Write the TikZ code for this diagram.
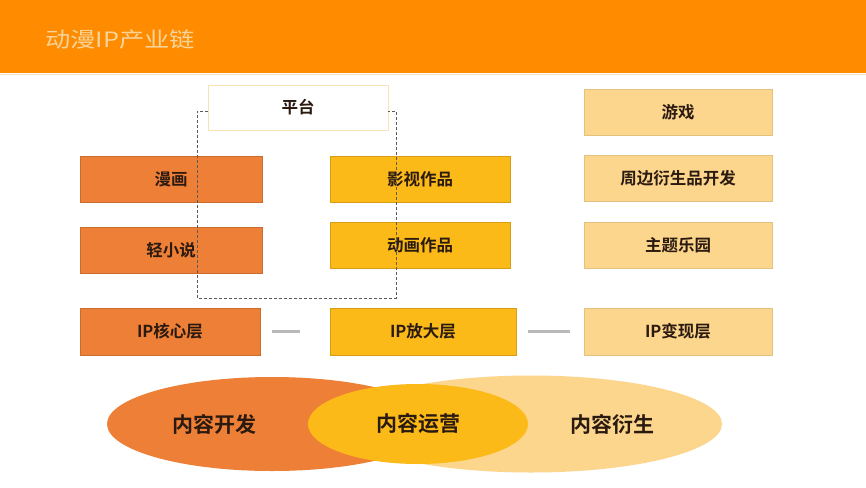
\documentclass[tikz,border=0pt]{standalone}
\usepackage{fontspec}
\setmainfont{Noto Sans CJK SC}
\newfontfamily\cjkbold{Noto Sans CJK SC Bold}
\usetikzlibrary{shapes.geometric}

\definecolor{headorange}{HTML}{FF8C00}
\definecolor{titlecream}{HTML}{F6D49A}
\definecolor{coreorange}{HTML}{EE7F36}
\definecolor{ampgold}{HTML}{FBBA18}
\definecolor{cashlight}{HTML}{FCD68C}
\definecolor{textdark}{HTML}{2B1A10}

\tikzset{
  layerbox/.style={rectangle, minimum width=182pt, minimum height=46pt,
    inner sep=0pt, text=textdark, font=\cjkbold\fontsize{16.5}{18}\selectfont},
  corebox/.style={layerbox, fill=coreorange, draw=coreorange!85!black, line width=0.4pt},
  ampbox/.style={layerbox, fill=ampgold, draw=ampgold!85!black, line width=0.4pt},
  cashbox/.style={layerbox, fill=cashlight, draw=cashlight!90!black, line width=0.4pt},
  blob/.style={ellipse, inner sep=0pt},
  blobtext/.style={text=textdark, font=\cjkbold\fontsize{21}{24}\selectfont},
  link/.style={draw=gray!55, line width=3pt}
}

\begin{document}
\begin{tikzpicture}[x=1pt, y=-1pt]
  \useasboundingbox (0,0) rectangle (866,487);
  \fill[white] (0,0) rectangle (866,487);

  % Draw header bar
  \fill[headorange] (0,0) rectangle (866,73);
  \draw[titlecream!60, line width=1.5pt] (0,74.5) -- (866,74.5);
  \node[anchor=west, text=titlecream, font=\fontsize{23}{26}\selectfont, inner sep=0pt] (title) at (45,40)
    {\scalebox{1.1}[0.92]{动漫IP产业链}};

  % Draw platform box
  \node[layerbox, minimum width=180pt, minimum height=45pt, fill=white, draw=titlecream!70] (platform) at (298,107.5) {平台};

  % Draw core column
  \node[corebox] (manga) at (171,179) {漫画};
  \node[corebox] (novel) at (171,250) {轻小说};
  \node[corebox, minimum width=180pt, minimum height=47pt] (core) at (170,331.5) {IP核心层};

  % Draw amplifier column
  \node[ampbox, minimum width=180pt] (film) at (420,179) {影视作品};
  \node[ampbox, minimum width=180pt] (anime) at (420,245) {动画作品};
  \node[ampbox, minimum width=186pt, minimum height=47pt] (amp) at (423,331.5) {IP放大层};

  % Draw monetization column
  \node[cashbox, minimum width=188pt] (game) at (678,112) {游戏};
  \node[cashbox, minimum width=188pt] (merch) at (678,178) {周边衍生品开发};
  \node[cashbox, minimum width=188pt] (park) at (678,245) {主题乐园};
  \node[cashbox, minimum width=188pt, minimum height=47pt] (cash) at (678,331.5) {IP变现层};

  % Draw dashed platform frame over the boxes
  \draw[densely dashed, gray!70!black, line width=0.6pt] (208,111) -- (197,111) -- (197,298)
    -- (396,298) -- (396,111) -- (388,111);

  % Draw links between layers
  \draw[link, shorten <=12pt, shorten >=30pt] (core) -- (amp);
  \draw[link, shorten <=12pt, shorten >=14pt] (amp) -- (cash);

  % Draw content ellipses
  \node[blob, fill=cashlight, minimum width=382pt, minimum height=97pt,
    label={[blobtext, xshift=81pt]center:内容衍生}] (derive) at (531,424) {};
  \node[blob, fill=coreorange, minimum width=330pt, minimum height=94pt,
    label={[blobtext, xshift=-58pt]center:内容开发}] (develop) at (272,424) {};
  \node[blob, fill=ampgold, minimum width=220pt, minimum height=80pt, blobtext] (operate) at (418,424) {内容运营};
\end{tikzpicture}
\end{document}
